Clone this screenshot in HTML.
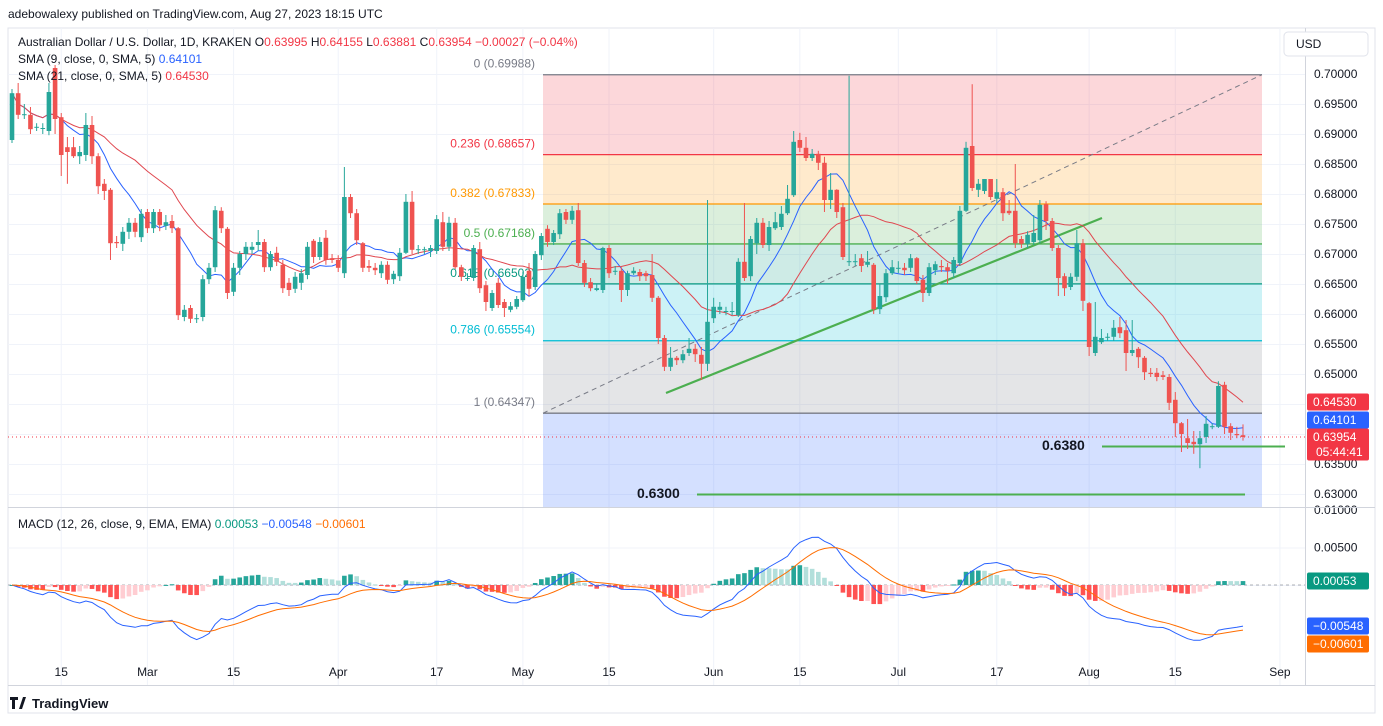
<!DOCTYPE html>
<html><head><meta charset="utf-8">
<style>
html,body{margin:0;padding:0;background:#fff;}
body{width:1383px;height:721px;overflow:hidden;font-family:"Liberation Sans",sans-serif;}
svg text{font-family:"Liberation Sans",sans-serif;}
</style></head>
<body>
<svg id="chart" width="1383" height="721" viewBox="0 0 1383 721" xmlns="http://www.w3.org/2000/svg">
<rect x="0" y="0" width="1383" height="721" fill="#fff"/>
<text x="8" y="18" font-size="12" fill="#131722">adebowalexy published on TradingView.com, Aug 27, 2023 18:15 UTC</text>
<rect x="8" y="28" width="1367" height="685" fill="none" stroke="#e0e3eb"/>
<g id="grid"></g>
<g id="fib"></g>
<g id="main"></g>
<g id="macd"></g>
<g id="axes"></g>
<line x1="8" y1="507.5" x2="1375" y2="507.5" stroke="#d1d4dc"/>
<line x1="1305.5" y1="28" x2="1305.5" y2="685" stroke="#d1d4dc"/>
<line x1="8" y1="685.5" x2="1375" y2="685.5" stroke="#d1d4dc"/>
<g>
<text x="18" y="46" font-size="12" fill="#131722">Australian Dollar / U.S. Dollar, 1D, KRAKEN <tspan fill="#131722">O</tspan><tspan fill="#f23645">0.63995</tspan> <tspan>H</tspan><tspan fill="#f23645">0.64155</tspan> <tspan>L</tspan><tspan fill="#f23645">0.63881</tspan> <tspan>C</tspan><tspan fill="#f23645">0.63954 −0.00027 (−0.04%)</tspan></text>
<text x="18" y="63" font-size="12" fill="#131722">SMA (9, close, 0, SMA, 5) <tspan fill="#2962ff">0.64101</tspan></text>
<text x="18" y="80" font-size="12" fill="#131722">SMA (21, close, 0, SMA, 5) <tspan fill="#f23645">0.64530</tspan></text>
<text x="18" y="528" font-size="12" fill="#131722">MACD (12, 26, close, 9, EMA, EMA) <tspan fill="#089981">0.00053</tspan> <tspan fill="#2962ff">−0.00548</tspan> <tspan fill="#ff6d00">−0.00601</tspan></text>
</g>
<g>
<rect x="1284" y="32" width="84" height="24" rx="4" fill="#fff" stroke="#e0e3eb"/>
<text x="1296" y="48" font-size="12" fill="#131722">USD</text>
</g>
<g>
<path d="M10 697h8v3h-3v9h-3v-9h-2z M19 709l4-12h3l-4 12z" fill="#131722"/>
<text x="32" y="708" font-size="13" fill="#131722" font-weight="bold">TradingView</text>
</g>
</svg>
<script>
const opens=[0.6890,0.6968,0.6933,0.6932,0.6912,0.6910,0.6905,0.7010,0.6928,0.6878,0.6878,0.6863,0.6865,0.6915,0.6863,0.6817,0.6807,0.6720,0.6717,0.6737,0.6752,0.6728,0.6770,0.6743,0.6770,0.6747,0.6755,0.6743,0.6595,0.6610,0.6592,0.6595,0.6658,0.6678,0.6772,0.6742,0.6637,0.6677,0.6700,0.6707,0.6715,0.6720,0.6678,0.6702,0.6682,0.6652,0.6642,0.6652,0.6665,0.6722,0.6695,0.6727,0.6693,0.6690,0.6668,0.6795,0.6768,0.6718,0.6680,0.6677,0.6668,0.6682,0.6658,0.6663,0.6702,0.6787,
0.6708,0.6708,0.6705,0.6705,0.6753,0.6712,0.6752,0.6678,0.6660,0.6660,0.6708,0.6648,0.6610,0.6652,0.6620,0.6607,0.6612,0.6623,0.6672,0.6645,0.6698,0.6742,0.6720,0.6733,0.6770,0.6757,0.6773,0.6685,0.6653,0.6640,0.6640,0.6710,0.6672,0.6672,0.6640,0.6668,0.6670,0.6668,0.6665,0.6627,0.6560,0.6512,0.6527,0.6523,0.6535,0.6542,0.6532,0.6517,0.6593,0.6607,0.6605,0.6605,0.6598,0.6687,0.6663,0.6718,0.6752,0.6715,0.6743,0.6745,0.6768,0.6798,0.6890,0.6877,0.6860,0.6867,0.6852,0.6790,0.6807,
0.6778,0.6688,0.6688,0.6693,0.6682,0.6682,0.6608,0.6628,0.6668,0.6677,0.6677,0.6677,0.6693,0.6657,0.6635,0.6673,0.6680,0.6678,0.6668,0.6685,0.6772,0.6880,0.6807,0.6805,0.6825,0.6792,0.6803,0.6772,0.6772,0.6725,0.6717,0.6720,0.6723,0.6783,0.6755,0.6710,0.6663,0.6645,0.6662,0.6718,0.6618,0.6535,0.6553,0.6562,0.6562,0.6578,0.6573,0.6535,0.6542,0.6527,0.6502,0.6502,0.6498,0.6495,0.6457,0.6418,0.6393,0.6387,0.6383,0.6395,0.6413,0.6412,0.6482,0.6413,0.6400,0.6398];
const closes=[0.6968,0.6932,0.6933,0.6908,0.6912,0.6910,0.6970,0.6925,0.6865,0.6870,0.6863,0.6870,0.6915,0.6863,0.6813,0.6805,0.6718,0.6718,0.6737,0.6752,0.6737,0.6767,0.6743,0.6770,0.6748,0.6753,0.6743,0.6598,0.6607,0.6592,0.6593,0.6658,0.6677,0.6773,0.6743,0.6635,0.6677,0.6700,0.6712,0.6712,0.6720,0.6678,0.6700,0.6687,0.6643,0.6640,0.6662,0.6668,0.6712,0.6695,0.6720,0.6690,0.6690,0.6677,0.6795,0.6768,0.6723,0.6677,0.6677,0.6673,0.6682,0.6657,0.6667,0.6702,0.6787,0.6707,
0.6708,0.6708,0.6710,0.6758,0.6712,0.6752,0.6678,0.6662,0.6660,0.6710,0.6643,0.6620,0.6635,0.6615,0.6610,0.6613,0.6625,0.6662,0.6642,0.6700,0.6730,0.6720,0.6735,0.6768,0.6757,0.6772,0.6685,0.6652,0.6643,0.6643,0.6710,0.6668,0.6672,0.6640,0.6668,0.6672,0.6663,0.6663,0.6627,0.6560,0.6512,0.6527,0.6523,0.6533,0.6542,0.6533,0.6517,0.6587,0.6612,0.6612,0.6605,0.6605,0.6687,0.6660,0.6725,0.6752,0.6715,0.6745,0.6753,0.6767,0.6792,0.6887,0.6877,0.6860,0.6867,0.6852,0.6790,0.6807,0.6770,
0.6695,0.6688,0.6688,0.6680,0.6687,0.6608,0.6630,0.6668,0.6678,0.6677,0.6673,0.6693,0.6655,0.6635,0.6678,0.6683,0.6678,0.6672,0.6690,0.6772,0.6877,0.6810,0.6817,0.6825,0.6795,0.6803,0.6768,0.6768,0.6718,0.6717,0.6732,0.6735,0.6782,0.6755,0.6710,0.6660,0.6643,0.6662,0.6718,0.6622,0.6545,0.6562,0.6560,0.6562,0.6577,0.6568,0.6535,0.6540,0.6528,0.6503,0.6500,0.6495,0.6495,0.6452,0.6418,0.6400,0.6385,0.6383,0.6393,0.6417,0.6413,0.6480,0.6412,0.6402,0.6398,0.6395];
const highs=[0.6975,0.6985,0.6950,0.6945,0.6918,0.6918,0.6985,0.7015,0.6935,0.6895,0.6895,0.6880,0.6935,0.6930,0.6868,0.6825,0.6810,0.6730,0.6745,0.6760,0.6760,0.6775,0.6775,0.6775,0.6775,0.6765,0.6765,0.6745,0.6615,0.6615,0.6600,0.6665,0.6685,0.6780,0.6778,0.6745,0.6685,0.6705,0.6720,0.6720,0.6740,0.6725,0.6705,0.6712,0.6690,0.6660,0.6670,0.6675,0.6720,0.6725,0.6728,0.6740,0.6700,0.6698,0.6845,0.6800,0.6775,0.6720,0.6690,0.6685,0.6688,0.6688,0.6672,0.6710,0.6800,0.6805,
0.6715,0.6712,0.6715,0.6765,0.6770,0.6762,0.6760,0.6682,0.6668,0.6715,0.6720,0.6655,0.6640,0.6660,0.6625,0.6620,0.6630,0.6670,0.6685,0.6705,0.6735,0.6748,0.6740,0.6775,0.6775,0.6780,0.6785,0.6690,0.6660,0.6650,0.6712,0.6715,0.6680,0.6678,0.6672,0.6678,0.6675,0.6672,0.6700,0.6630,0.6565,0.6545,0.6530,0.6540,0.6560,0.6550,0.6545,0.6790,0.6627,0.6620,0.6612,0.6620,0.6693,0.6785,0.6730,0.6760,0.6760,0.6755,0.6770,0.6780,0.6815,0.6905,0.6902,0.6895,0.6875,0.6872,0.6862,0.6835,0.6808,
0.6785,0.6997,0.6700,0.6700,0.6705,0.6685,0.6650,0.6675,0.6690,0.6688,0.6685,0.6700,0.6695,0.6665,0.6685,0.6688,0.6690,0.6685,0.6695,0.6780,0.6887,0.6983,0.6825,0.6825,0.6825,0.6825,0.6810,0.6790,0.6850,0.6730,0.6738,0.6765,0.6790,0.6788,0.6760,0.6715,0.6668,0.6668,0.6740,0.6725,0.6620,0.6620,0.6575,0.6568,0.6590,0.6595,0.6590,0.6590,0.6545,0.6530,0.6510,0.6510,0.6505,0.6500,0.6470,0.6420,0.6425,0.6405,0.6405,0.6430,0.6418,0.6488,0.6487,0.6418,0.6412,0.6416];
const lows=[0.6885,0.6925,0.6925,0.6900,0.6905,0.6900,0.6898,0.6900,0.6830,0.6817,0.6860,0.6850,0.6855,0.6850,0.6800,0.6790,0.6690,0.6710,0.6705,0.6725,0.6728,0.6720,0.6735,0.6735,0.6738,0.6740,0.6735,0.6590,0.6588,0.6585,0.6585,0.6588,0.6650,0.6670,0.6735,0.6625,0.6630,0.6665,0.6690,0.6700,0.6705,0.6670,0.6672,0.6680,0.6635,0.6630,0.6635,0.6640,0.6658,0.6685,0.6690,0.6682,0.6685,0.6670,0.6660,0.6760,0.6715,0.6670,0.6670,0.6665,0.6660,0.6650,0.6650,0.6655,0.6700,0.6700,
0.6700,0.6700,0.6695,0.6700,0.6705,0.6705,0.6675,0.6655,0.6655,0.6655,0.6635,0.6605,0.6605,0.6610,0.6595,0.6603,0.6608,0.6620,0.6630,0.6640,0.6690,0.6712,0.6715,0.6725,0.6750,0.6750,0.6680,0.6645,0.6638,0.6638,0.6635,0.6660,0.6665,0.6620,0.6630,0.6665,0.6655,0.6655,0.6620,0.6550,0.6505,0.6505,0.6515,0.6518,0.6530,0.6520,0.6490,0.6505,0.6585,0.6600,0.6598,0.6598,0.6595,0.6655,0.6655,0.6700,0.6710,0.6705,0.6740,0.6740,0.6765,0.6795,0.6870,0.6855,0.6855,0.6840,0.6770,0.6775,0.6760,
0.6690,0.6680,0.6680,0.6670,0.6678,0.6600,0.6600,0.6620,0.6665,0.6668,0.6665,0.6670,0.6650,0.6620,0.6630,0.6665,0.6670,0.6650,0.6660,0.6680,0.6770,0.6805,0.6795,0.6800,0.6790,0.6785,0.6755,0.6765,0.6710,0.6710,0.6710,0.6715,0.6718,0.6740,0.6705,0.6630,0.6630,0.6640,0.6655,0.6605,0.6530,0.6530,0.6550,0.6555,0.6555,0.6560,0.6505,0.6530,0.6510,0.6490,0.6495,0.6488,0.6490,0.6440,0.6395,0.6370,0.6375,0.6367,0.6343,0.6385,0.6408,0.6410,0.6400,0.6390,0.6393,0.6389];
const priceTicks=[0.70,0.695,0.69,0.685,0.68,0.675,0.67,0.665,0.66,0.655,0.65,0.645,0.64,0.635,0.63];
const macdTicks=[0.01,0.005];
const timeLabels=['15','Mar','15','Apr','17','May','15','Jun','15','Jul','17','Aug','15','Sep'];
const timeLabelDays=[8,22,36,53,69,83,97,114,128,144,160,175,189,206];
const fibRatios=[0,0.236,0.382,0.5,0.618,0.786,1];
const fibHigh=0.69988, fibLow=0.64347;
const supportLevels=[0.6380,0.6300];

const NS='http://www.w3.org/2000/svg';
function mk(tag,attrs,parent){const e=document.createElementNS(NS,tag);for(const k in attrs)e.setAttribute(k,attrs[k]);parent.appendChild(e);return e;}
const N=closes.length;
const STEP=6.155, X0=12;
const xS=i=>X0+i*STEP;
const yP=p=>74+(0.70-p)*6000;
const yM=v=>585-v*7500;
const grid=document.getElementById('grid'),fib=document.getElementById('fib'),main=document.getElementById('main'),macdG=document.getElementById('macd'),axes=document.getElementById('axes');

// grid
priceTicks.forEach(p=>{const l=mk('line',{x1:8,x2:1305,y1:yP(p)+0.5,y2:yP(p)+0.5,stroke:'#f0f3fa'},grid);


const t=mk('text',{x:1314,y:yP(p)+4,'font-size':12,fill:'#131722'},axes);t.textContent=p.toFixed(5);

});
[0.005,0].forEach(v=>{const l=mk('line',{x1:8,x2:1305,y1:yM(v)+0.5,y2:yM(v)+0.5,stroke:'#f0f3fa'},grid);

});
macdTicks.forEach(v=>{const t=mk('text',{x:1314,y:yM(v)+4,'font-size':12,fill:'#131722'},axes);t.textContent=v.toFixed(5);

});
timeLabels.forEach((s,k)=>{const x=xS(timeLabelDays[k]);
const l=mk('line',{x1:x,x2:x,y1:28,y2:685,stroke:'#f0f3fa'},grid);


const t=mk('text',{x:x,y:676,'font-size':12,fill:'#131722','text-anchor':'middle'},axes);t.textContent=s;

});

// fib
const fx1=543,fx2=1262;
const fibFill=['rgba(242,54,69,0.2)','rgba(255,152,0,0.2)','rgba(76,175,80,0.2)','rgba(8,153,129,0.2)','rgba(0,188,212,0.2)','rgba(120,123,134,0.2)'];
const fibLine=['#787b86','#f23645','#ff9800','#4caf50','#089981','#00bcd4','#787b86'];
const fibVal=r=>fibHigh-(fibHigh-fibLow)*r;
for(let k=0;k<fibRatios.length-1;k++){const a=yP(fibVal(fibRatios[k])),b=yP(fibVal(fibRatios[k+1]));
const r=mk('rect',{x:fx1,y:a,width:fx2-fx1,height:b-a,fill:fibFill[k]},fib);

}
{const a=yP(fibLow);const r=mk('rect',{x:fx1,y:a,width:fx2-fx1,height:507-a,fill:'rgba(41,98,255,0.2)'},fib);

}
fibRatios.forEach((r,k)=>{const v=fibVal(r),y=yP(v);
const l=mk('line',{x1:fx1,x2:fx2,y1:y,y2:y,stroke:fibLine[k],'stroke-width':1.3},fib);


const t=mk('text',{x:535,y:y-7,'font-size':12,fill:fibLine[k],'text-anchor':'end'},fib);
t.textContent=(r===0?'0':r===1?'1':String(r))+' ('+v.toFixed(5)+')';

});
{const l=mk('line',{x1:fx1,y1:yP(fibLow),x2:fx2,y2:yP(fibHigh),stroke:'#787b86','stroke-dasharray':'5 4'},fib);

}

// trendlines
{const l=mk('line',{x1:666,y1:393,x2:1102,y2:218,stroke:'#4caf50','stroke-width':2.2},main);

}
[[1102,1285,1042,'support-0-6380'],[697,1245,637,'support-0-6300']].forEach((s,k)=>{const y=yP(supportLevels[k]);
const l=mk('line',{x1:s[0],x2:s[1],y1:y+0.5,y2:y+0.5,stroke:'#4caf50','stroke-width':2},main);


const t=mk('text',{x:s[2],y:y+4,'font-size':14,'font-weight':'bold',fill:'#131722'},main);t.textContent=supportLevels[k].toFixed(4);

});

// last price dotted line
{const y=yP(closes[N-1]);const l=mk('line',{x1:8,x2:1305,y1:y,y2:y,stroke:'#f23645','stroke-dasharray':'1 3'},main);

}

// SMAs
function sma(n){return closes.map((c,i)=>{const s=Math.max(0,i-n+1);let t=0;for(let j=s;j<=i;j++)t+=closes[j];return t/(i-s+1);});}
[[9,'#2962ff','sma9-line'],[21,'#e0474f','sma21-line']].forEach(d=>{const v=sma(d[0]);
const p=mk('path',{d:v.map((y,i)=>(i?'L':'M')+xS(i).toFixed(1)+' '+yP(y).toFixed(1)).join(''),fill:'none',stroke:d[1],'stroke-width':1},main);

});

// candles
for(let i=0;i<N;i++){const up=closes[i]>=opens[i];const col=up?'#26a69a':'#ef5350';const x=xS(i);
const g=mk('g',{},main);


mk('line',{x1:x,x2:x,y1:yP(highs[i]),y2:yP(lows[i]),stroke:col,'stroke-width':1},g);
const t=yP(Math.max(opens[i],closes[i])),b=yP(Math.min(opens[i],closes[i]));
mk('rect',{x:x-2.3,y:t,width:4.6,height:Math.max(1,b-t),fill:col},g);}

// MACD
function ema(arr,n){const k=2/(n+1);const o=[];arr.forEach((v,i)=>o.push(i?v*k+o[i-1]*(1-k):v));return o;}
const e12=ema(closes,12),e26=ema(closes,26);
const macd=e12.map((v,i)=>v-e26[i]);const sig=ema(macd,9);const hist=macd.map((v,i)=>v-sig[i]);
{const l=mk('line',{x1:8,x2:1305,y1:yM(0),y2:yM(0),stroke:'#787b86','stroke-dasharray':'3 3','stroke-opacity':0.6},macdG);

}
hist.forEach((h,i)=>{const prev=i?hist[i-1]:h;let col;
if(h>=0)col=h>=prev?'#26a69a':'#b2dfdb';else col=h<prev?'#ff5252':'#ffcdd2';
const y0=yM(0),y1=yM(h);
const r=mk('rect',{x:xS(i)-2.3,y:Math.min(y0,y1),width:4.6,height:Math.max(1,Math.abs(y1-y0)),fill:col},macdG);

});
[[macd,'#2962ff','macd-line'],[sig,'#ff6d00','signal-line']].forEach(d=>{
const p=mk('path',{d:d[0].map((v,i)=>(i?'L':'M')+xS(i).toFixed(1)+' '+yM(v).toFixed(1)).join(''),fill:'none',stroke:d[1],'stroke-width':1},macdG);

});

// price tags
function tag(y,bg,txt,name,extra){const g=mk('g',{},axes);


const h=extra?32:17;mk('rect',{x:1307,y:y-8.5,width:62,height:h,rx:2,fill:bg},g);
const t=mk('text',{x:1313,y:y+4,'font-size':12,fill:'#fff'},g);t.textContent=txt;
if(extra){const t2=mk('text',{x:1316,y:y+19,'font-size':12,fill:'#fff'},g);t2.textContent=extra;}}
tag(402,'#f23645','0.64530','sma21-price-tag');
tag(420,'#2962ff','0.64101','sma9-price-tag');
tag(437,'#f23645',closes[N-1].toFixed(5)==='0.63950'?'0.63954':'0.63954','last-price-tag','05:44:41');
tag(581,'#089981','0.00053','histogram-value-tag');
tag(626,'#2962ff','−0.00548','macd-value-tag');
tag(644,'#ff6d00','−0.00601','signal-value-tag');
</script>
</body></html>
